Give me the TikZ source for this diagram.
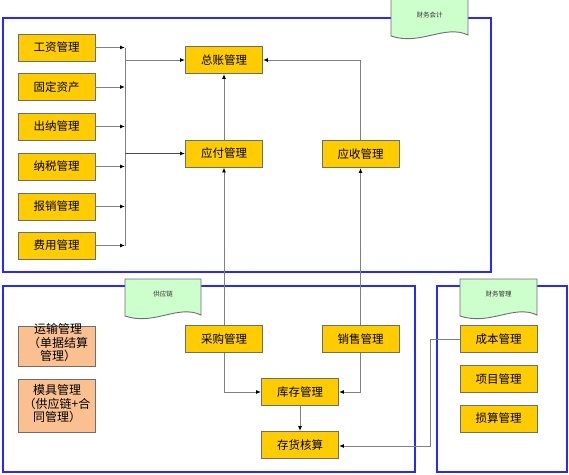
\documentclass[tikz,border=0pt]{standalone}
\usepackage{fontspec}
\newfontfamily\cjk{Noto Sans CJK SC}
\usetikzlibrary{arrows.meta}
\definecolor{gold}{RGB}{255,204,0}
\definecolor{peach}{RGB}{250,192,144}
\definecolor{mint}{RGB}{204,255,204}
\definecolor{frameblue}{RGB}{40,40,255}
\definecolor{edgegray}{RGB}{110,110,110}
\definecolor{linegray}{RGB}{128,128,128}
\tikzset{
  box/.style={draw=edgegray, fill=gold, line width=0.9pt, minimum width=77pt, minimum height=27pt, inner sep=0pt, font=\cjk\fontsize{11.5}{13}\selectfont},
  pbox/.style={box, fill=peach, align=center, font=\cjk\fontsize{11}{13}\selectfont},
  ptext/.style={font=\cjk\fontsize{12}{13.5}\selectfont, align=center, inner sep=0pt},
  frame/.style={draw=frameblue, line width=2pt},
  tagshape/.style={draw=edgegray, fill=mint, line width=0.9pt},
  tagtext/.style={font=\cjk\fontsize{6.5}{8}\selectfont, text=black!80},
  conn/.style={draw=linegray, line width=1pt, -{Latex[length=5pt,width=4pt,color=black]}},
  plain/.style={draw=linegray, line width=1pt}
}
\begin{document}
\begin{tikzpicture}[x=1pt,y=-1pt]
\useasboundingbox (0,0) rectangle (569,474);
% frames
\draw[frame] (3,18) rectangle (491,272);
\draw[frame] (3,286) rectangle (415,472);
\draw[frame] (437,286) rectangle (567,472);
% tags
\draw[tagshape] (391,-1) -- (468,-1) -- (468,35) .. controls (445,24) and (420,46) .. (391,36) -- cycle;
\node[tagtext] (t1) at (429.5,15) {财务会计};
\draw[tagshape] (125,279) -- (201,279) -- (201,315) .. controls (178,304) and (154,326) .. (125,316) -- cycle;
\node[tagtext] (t2) at (163,294) {供应链};
\draw[tagshape] (460,279) -- (537,279) -- (537,315) .. controls (514,304) and (490,326) .. (460,316) -- cycle;
\node[tagtext] (t3) at (498.5,294) {财务管理};
% left column
\node[box] (gz) at (56.5,47.5) {工资管理};
\node[box] (gd) at (56.5,87) {固定资产};
\node[box] (cn) at (56.5,126.5) {出纳管理};
\node[box] (ns) at (56.5,166.5) {纳税管理};
\node[box] (bx) at (56.5,206.5) {报销管理};
\node[box] (fy) at (56.5,245.5) {费用管理};
% center
\node[box] (zz) at (224,60) {总账管理};
\node[box] (yf) at (224,153.5) {应付管理};
\node[box] (ys) at (360.5,154) {应收管理};
\node[box] (cg) at (224,339) {采购管理};
\node[box] (xs) at (360.5,339) {销售管理};
\node[box] (kc) at (300,392) {库存管理};
\node[box] (ch) at (300,445) {存货核算};
% right
\node[box] (cb) at (498.5,339) {成本管理};
\node[box] (xm) at (498.5,379) {项目管理};
\node[box] (ss) at (498.5,418.5) {损算管理};
% peach
\node[pbox, minimum height=40pt] (ys2) at (56.5,346) {};
\node[ptext] (ysT) at (58,343) {运输管理\\（单据结算\\管理）};
\node[pbox, minimum height=53pt] (mj) at (56.5,405.5) {};
\node[ptext] (mjT) at (57,404) {模具管理\\（供应链+合\\同管理）};
% bus
\coordinate (busT) at (125,47.5);
\coordinate (busB) at (125,245.5);
\draw[plain] (busT) -- (busB);
\foreach \n in {gz,gd,cn,ns,bx,fy}{
  \draw[conn] (\n.east) -- (\n.east -| busT);
}
\draw[conn] (busT |- zz.west) -- (zz.west);
\draw[conn, line width=1.4pt, draw=black!70] (busT |- yf.west) -- (yf.west);
% connections
\draw[conn] (yf.north) -- (zz.south);
\draw[conn] (ys.north) |- (zz.east);
\draw[conn] (cg.north) -- (yf.south);
\draw[conn] (xs.north) -- (ys.south);
\draw[conn] (cg.south) |- (kc.west);
\draw[conn] (xs.south) |- (kc.east);
\draw[conn] (kc.south) -- (ch.north);
\coordinate (bend) at (430,339);
\draw[conn] (cb.west) -- (bend) |- ([yshift=-1pt]ch.east);
\end{tikzpicture}
\end{document}
